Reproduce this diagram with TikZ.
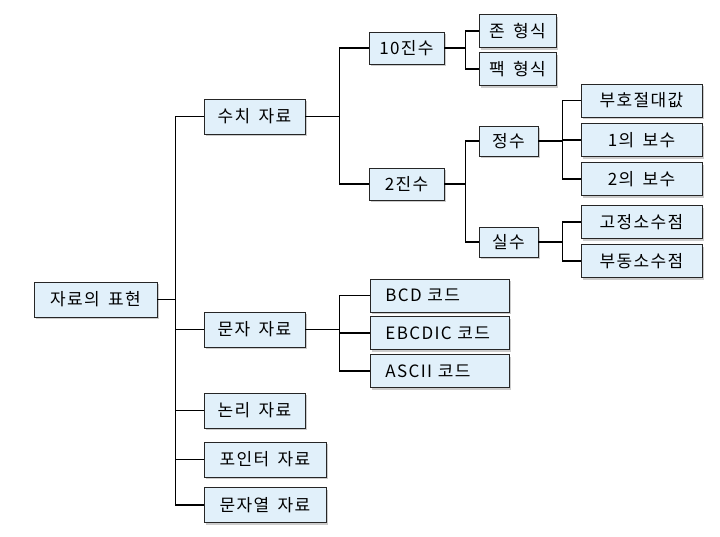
\documentclass[tikz,border=0pt]{standalone}
\usepackage{fontspec}
\setmainfont[LetterSpace=8,WordSpace=1.6]{Noto Sans CJK KR}
\usetikzlibrary{shadows}
\definecolor{boxblue}{RGB}{225,240,250}
\begin{document}
\begin{tikzpicture}[x=1pt,y=-1pt,
   every node/.style={draw=black!85,line width=0.8pt,fill=boxblue,
     drop shadow={shadow xshift=2pt,shadow yshift=-2pt,fill=black!40},
     inner sep=0pt,minimum height=33pt,font=\fontsize{17}{20}\selectfont},
   codebox/.style={anchor=west,text width=109pt,inner xsep=15pt,align=left},
   link/.style={line width=1.3pt}]

\useasboundingbox (0,0) rectangle (720,536);

\node[minimum width=123pt,minimum height=35pt] (root) at (95.5,299.5) {자료의 표현};

\node[minimum width=101pt,minimum height=35pt] (num) at (254.5,116.5) {수치 자료};
\node[minimum width=101pt,minimum height=35pt] (chr) at (254.5,329.5) {문자 자료};
\node[minimum width=101pt,minimum height=35pt] (logic) at (254.5,410.5) {논리 자료};
\node[minimum width=122pt,minimum height=35pt] (ptr) at (265,459.5) {포인터 자료};
\node[minimum width=122pt,minimum height=35pt] (str) at (265,505) {문자열 자료};

\node[minimum width=75pt,minimum height=32pt] (dec) at (406.5,48) {10진수};
\node[minimum width=75pt,minimum height=32pt] (bin) at (406.5,184) {2진수};
\node[minimum width=77pt] (zone) at (517.5,31) {존 형식};
\node[minimum width=77pt] (pack) at (517.5,69) {팩 형식};
\node[minimum width=59pt,minimum height=30pt] (int) at (508.5,141) {정수};
\node[minimum width=59pt,minimum height=30pt] (real) at (508.5,242) {실수};

\node[minimum width=121pt] (sm) at (641.5,100.5) {부호절대값};
\node[minimum width=121pt] (one) at (641.5,140) {1의 보수};
\node[minimum width=121pt] (two) at (641.5,179) {2의 보수};
\node[minimum width=121pt] (fixed) at (641.5,222) {고정소수점};
\node[minimum width=121pt] (float) at (641.5,261) {부동소수점};

\node[codebox] (bcd) at (370,295.5) {BCD 코드};
\node[codebox] (ebcdic) at (370,333) {EBCDIC 코드};
\node[codebox] (ascii) at (370,371) {ASCII 코드};

% elbow connectors
\foreach \ch in {num,chr,logic,ptr,str}
  \draw[link] (root.east) -- ++(18,0) |- (\ch.west);
\foreach \ch in {dec,bin}
  \draw[link] (num.east) -- ++(34,0) |- (\ch.west);
\foreach \ch in {bcd,ebcdic,ascii}
  \draw[link] (chr.east) -- ++(34,0) |- (\ch.west);
\foreach \ch in {zone,pack}
  \draw[link] (dec.east) -- ++(21,0) |- (\ch.west);
\foreach \ch in {int,real}
  \draw[link] (bin.east) -- ++(21,0) |- (\ch.west);
\foreach \ch in {sm,one,two}
  \draw[link] (int.east) -- ++(24,0) |- (\ch.west);
\foreach \ch in {fixed,float}
  \draw[link] (real.east) -- ++(24,0) |- (\ch.west);

\end{tikzpicture}
\end{document}
